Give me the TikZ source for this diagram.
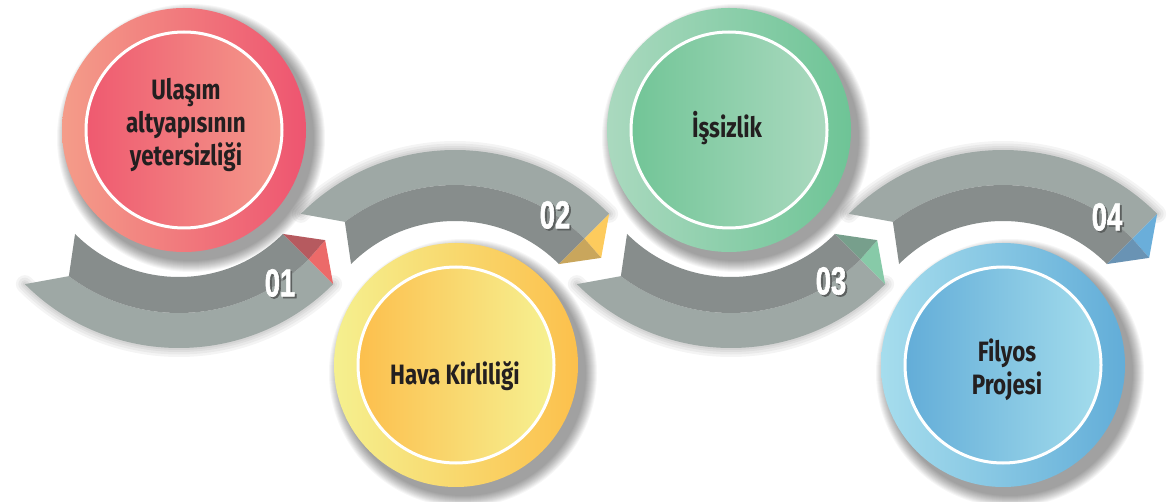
\documentclass[tikz,border=0pt]{standalone}
\usepackage{fontspec}
\setmainfont{Fira Sans}
\newfontfamily\labelfont[FakeStretch=0.8]{Fira Sans}
\newfontfamily\numfont[FakeStretch=0.7, FakeBold=1.5]{Liberation Sans}
\usetikzlibrary{calc}

\definecolor{rbLight}{HTML}{9EA8A5}
\definecolor{rbDark}{HTML}{878D8C}
\definecolor{txtc}{HTML}{231F20}
\definecolor{numsh}{HTML}{5C605F}
% red
\definecolor{rOL}{HTML}{F49C89}\definecolor{rOR}{HTML}{EE5570}
\definecolor{rIL}{HTML}{EF5A70}\definecolor{rIR}{HTML}{F49A8B}
\definecolor{rTB}{HTML}{EC6A69}\definecolor{rTD}{HTML}{B65A5F}
% yellow
\definecolor{yOL}{HTML}{F5F08F}\definecolor{yOR}{HTML}{FCC04C}
\definecolor{yIL}{HTML}{FCBF4D}\definecolor{yIR}{HTML}{F6F192}
\definecolor{yTB}{HTML}{FDCB5D}\definecolor{yTD}{HTML}{C9A65C}
% green
\definecolor{gOL}{HTML}{AAD9BF}\definecolor{gOR}{HTML}{6EC496}
\definecolor{gIL}{HTML}{72C597}\definecolor{gIR}{HTML}{AAD9BF}
\definecolor{gTB}{HTML}{87CAA8}\definecolor{gTD}{HTML}{779F8C}
% blue
\definecolor{bOL}{HTML}{A6DDED}\definecolor{bOR}{HTML}{62ADD8}
\definecolor{bIL}{HTML}{63ADD8}\definecolor{bIR}{HTML}{A3DCEC}
\definecolor{bTB}{HTML}{6AAEDA}\definecolor{bTD}{HTML}{6993B4}

\tikzset{
  lbl/.style={font={\labelfont\bfseries\fontsize{28}{33}\selectfont}, text=txtc, align=center, inner sep=0pt},
  numtxt/.style={font={\numfont\bfseries\fontsize{39}{39}\selectfont}, text=white, inner sep=0pt},
  numshade/.style={font={\numfont\bfseries\fontsize{39}{39}\selectfont}, text=numsh, inner sep=0pt},
}

% #1 centre, #2 sign (1 = upper ribbon, -1 = lower ribbon), #3 bright tip, #4 dark tip
\newcommand\myRibbon[4]{%
  \foreach \w in {18,13,8,4}{%
    \draw[black, opacity=0.045, line width=\w pt, line cap=round]
      ($(#1)+({#2*135}:218)$) arc[start angle={#2*135}, end angle={#2*45}, radius=218];
  }
  \fill[rbLight] ($(#1)+({#2*135}:218)$) arc[start angle={#2*135}, end angle={#2*45}, radius=218]
     -- ($(#1)+({#2*45}:183)$) arc[start angle={#2*45}, end angle={#2*127}, radius=183] -- cycle;
  \fill[rbDark] ($(#1)+({#2*127}:183)$) -- ($(#1)+({#2*135}:147)$)
     arc[start angle={#2*135}, end angle={#2*45}, radius=147]
     -- ($(#1)+({#2*45}:183)$) arc[start angle={#2*45}, end angle={#2*127}, radius=183] -- cycle;
  \fill[#3] ($(#1)+({#2*45}:218)$) -- ($(#1)+({#2*45}:183)$) -- ($(#1)+({#2*37}:183)$) -- cycle;
  \fill[#4] ($(#1)+({#2*45}:147)$) -- ($(#1)+({#2*45}:183)$) -- ($(#1)+({#2*37}:183)$) -- cycle;
}

% #1 centre, #2..#5 colours
\newcommand\myBubble[5]{%
  \foreach \k in {1,...,12}{%
    \fill[black, opacity=0.035] ($(#1)+(7,-8)$) circle[radius={122+13-\k}];
  }
  \shade[left color=#2, right color=#3] (#1) circle[radius=122];
  \shade[left color=#4, right color=#5] (#1) circle[radius=97];
  \draw[white, line width=3pt] (#1) circle[radius=98];
}

\begin{document}
\begin{tikzpicture}[x=1pt, y=1pt]
\useasboundingbox (0,0) rectangle (1169,501);
\fill[white] (0,0) rectangle (1169,501);

\coordinate (R1) at (179,371);
\coordinate (R2) at (455,133);
\coordinate (R3) at (731,371);
\coordinate (R4) at (1003,133);
\coordinate (C1) at (184,371);
\coordinate (C2) at (456,136);
\coordinate (C3) at (729,371);
\coordinate (C4) at (1003,136);

\myRibbon{R1}{-1}{rTB}{rTD}
\myRibbon{R2}{1}{yTB}{yTD}
\myRibbon{R3}{-1}{gTB}{gTD}
\myRibbon{R4}{1}{bTB}{bTD}

\myBubble{C1}{rOL}{rOR}{rIL}{rIR}
\myBubble{C2}{yOL}{yOR}{yIL}{yIR}
\myBubble{C3}{gOL}{gOR}{gIL}{gIR}
\myBubble{C4}{bOL}{bOR}{bIL}{bIR}

\node[lbl] (t1) at (186,376) {Ulaşım\\altyapısının\\yetersizliği};
\node[lbl] (t2) at (455,124.5) {Hava Kirliliği};
\node[lbl] (t3) at (727,373) {İşsizlik};
\node[lbl] (t4) at (1007,131) {Filyos\\Projesi};

\node[numshade] (n1s) at (281.8,216.3) {01};
\node[numtxt]   (n1)  at (280,218) {01};
\node[numshade] (n2s) at (556.8,284.3) {02};
\node[numtxt]   (n2)  at (555,286) {02};
\node[numshade] (n3s) at (832.8,218.3) {03};
\node[numtxt]   (n3)  at (831,220) {03};
\node[numshade] (n4s) at (1108.8,282.3) {04};
\node[numtxt]   (n4)  at (1107,284) {04};
\end{tikzpicture}
\end{document}
